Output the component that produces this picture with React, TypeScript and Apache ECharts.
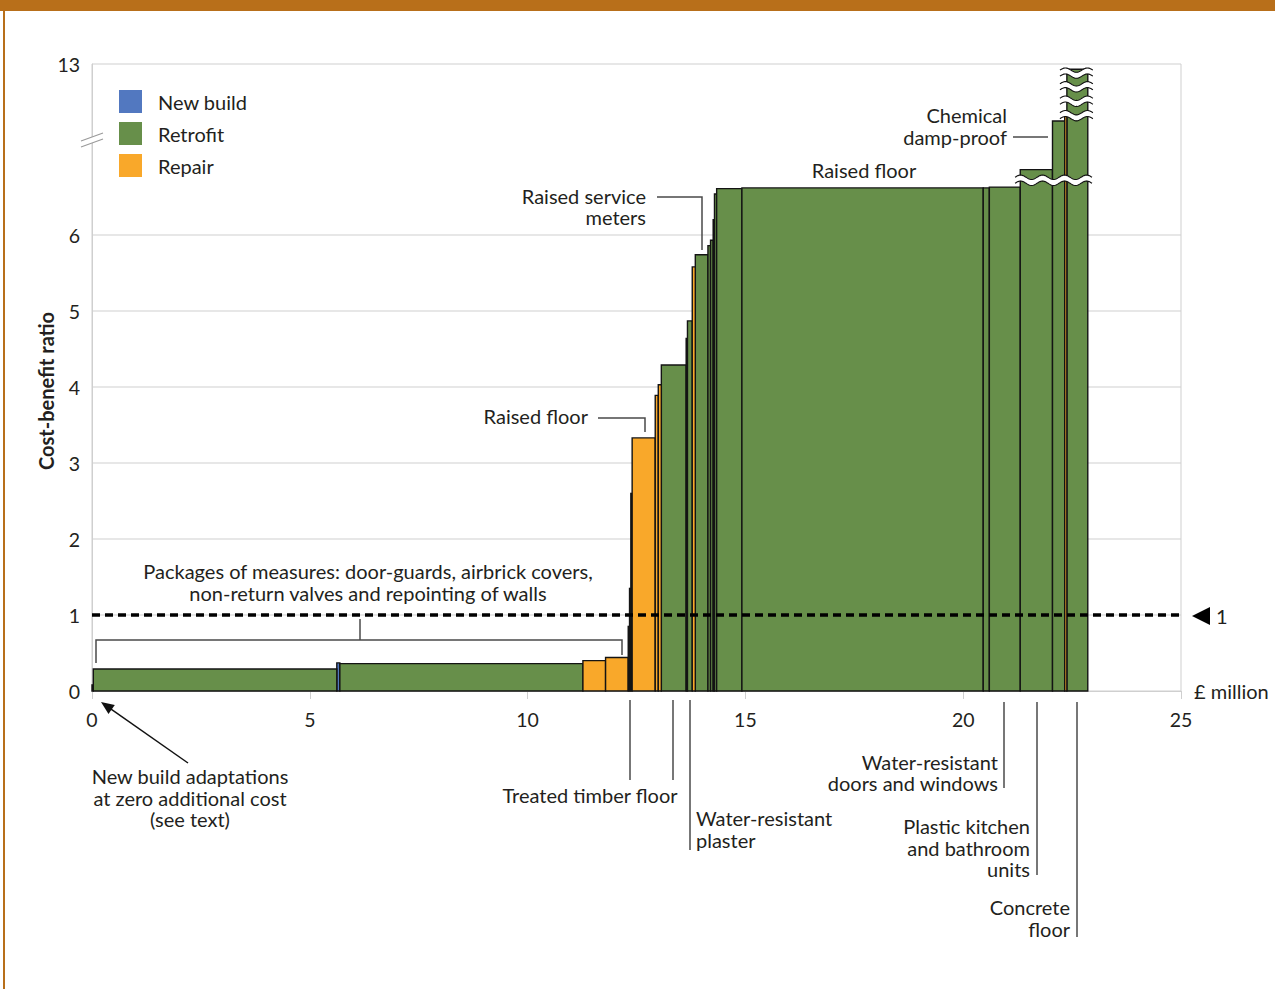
import { useEffect, useRef } from 'react';
import * as echarts from 'echarts';

const typeNames = ['New build', 'Retrofit', 'Repair'];
const typeColors = ['#5278c0', '#678f4a', '#f9a82a'];

// Measures sorted by cost-benefit ratio. Cost in £ million (bar width).
const costs = [0.03, 5.59, 0.07, 5.58, 0.52, 0.52, 0.03, 0.03, 0.03, 0.53, 0.07, 0.07, 0.57, 0.03, 0.11, 0.07, 0.29, 0.06, 0.06, 0.03, 0.05, 0.58, 5.54, 0.14, 0.71, 0.74, 0.28, 0.05, 0.48];
// Plotted cost-benefit ratio (values above ~6.7 sit on the broken part of the axis).
const ratios = [0.08, 0.29, 0.37, 0.36, 0.4, 0.44, 0.85, 1.35, 2.6, 3.33, 3.89, 4.03, 4.29, 4.64, 4.87, 5.58, 5.74, 5.86, 5.93, 6.2, 6.54, 6.61, 6.62, 6.62, 6.63, 6.86, 7.5, 7.6, 8.18];
// 0 = New build, 1 = Retrofit, 2 = Repair
const types = [0, 1, 0, 1, 2, 2, 2, 1, 1, 2, 2, 2, 1, 1, 1, 2, 1, 1, 1, 1, 1, 1, 1, 1, 1, 1, 1, 2, 1];

const xMax = 25;
const xInterval = 5;
const yLabelValues = [0, 1, 2, 3, 4, 5, 6];
const yTopLabel = '13';
const yTopPlot = 8.25;
const gridLineValues = [1, 2, 3, 4, 5, 6];
const thresholdRatio = 1;
// axis breaks drawn across bars: [x start, x end, plotted level]
const breakMarks = [
  [21.19, 22.98, 6.72],
  [22.22, 22.98, 7.57],
  [22.22, 22.98, 7.76],
  [22.22, 22.98, 7.95],
  [22.22, 22.98, 8.13],
];

const FONT = 'Lato';
const TXT = '#231f20';
const LEAD = '#4a4a4a';

function wave(xa: number, xb: number, yc: number, off: number) {
  const pts: number[][] = [];
  const L = 22;
  const A = 2.2;
  for (let x = xa; x <= xb + 0.001; x += 1) {
    pts.push([x, yc + off - A * Math.sin(((x - xa) / L) * 2 * Math.PI)]);
  }
  return pts;
}

function text(x: number, y: number, s: string, align: string, extra: any = {}) {
  return {
    type: 'text',
    x,
    y,
    z: 100,
    style: {
      text: s,
      fill: TXT,
      fontFamily: FONT,
      fontSize: 20,
      textAlign: align,
      textVerticalAlign: 'middle',
      lineHeight: 21.5,
      ...extra,
    },
  };
}

function poly(points: number[][], color = LEAD, w = 1.5) {
  return {
    type: 'polyline',
    z: 100,
    shape: { points },
    style: { stroke: color, lineWidth: w, fill: null },
  };
}

function arrow(x0: number, y0: number, x1: number, y1: number) {
  const dx = x1 - x0;
  const dy = y1 - y0;
  const len = Math.sqrt(dx * dx + dy * dy);
  const ux = dx / len;
  const uy = dy / len;
  const nx = -uy;
  const ny = ux;
  const hl = 13;
  const hw = 5.5;
  const bx = x1 - ux * hl;
  const by = y1 - uy * hl;
  return [
    poly([[x0, y0], [bx + ux * 2, by + uy * 2]], '#111', 1.5),
    {
      type: 'polygon',
      z: 100,
      shape: { points: [[x1, y1], [bx + nx * hw, by + ny * hw], [bx - nx * hw, by - ny * hw]] },
      style: { fill: '#111' },
    },
  ];
}

export default function App() {
  const ref = useRef<HTMLDivElement>(null);

  useEffect(() => {
    if (!ref.current) return;
    const chart = echarts.init(ref.current, null, { renderer: 'svg' });

    let acc = 0;
    const rows = costs.map((c, i) => {
      const r = [acc, acc + c, ratios[i]];
      acc += c;
      return r;
    });

    const barRender = (params: any, api: any) => {
      const x0 = api.value(0);
      const x1 = api.value(1);
      const h = api.value(2);
      const p0 = api.coord([x0, 0]);
      const p1 = api.coord([x1, h]);
      return {
        type: 'rect',
        shape: { x: p0[0], y: p1[1], width: p1[0] - p0[0], height: p0[1] - p1[1] },
        style: { fill: api.visual('color'), stroke: '#141414', lineWidth: 1.4 },
      };
    };

    const barSeries = typeNames.map((name, t) => ({
      name,
      type: 'custom',
      z: 3,
      renderItem: barRender,
      itemStyle: { color: typeColors[t] },
      dimensions: ['x0', 'x1', 'ratio'],
      encode: { x: [0, 1], y: 2 },
      data: rows.filter((_, i) => types[i] === t),
      silent: true,
    }));

    const gridSeries = {
      type: 'custom',
      z: 1,
      silent: true,
      renderItem: (params: any, api: any) => {
        const a = api.coord([0, api.value(0)]);
        const b = api.coord([xMax, api.value(0)]);
        return {
          type: 'line',
          shape: { x1: a[0], y1: a[1], x2: b[0], y2: b[1] },
          style: { stroke: '#cfcfcf', lineWidth: 1 },
        };
      },
      encode: { y: 0 },
      data: gridLineValues.map((v) => [v]),
    };

    const thresholdSeries = {
      type: 'custom',
      z: 5,
      silent: true,
      renderItem: (params: any, api: any) => {
        const a = api.coord([0, api.value(0)]);
        const b = api.coord([xMax, api.value(0)]);
        return {
          type: 'line',
          shape: { x1: a[0], y1: a[1], x2: b[0], y2: b[1] },
          style: { stroke: '#000', lineWidth: 3.4, lineDash: [8, 5] },
        };
      },
      encode: { y: 0 },
      data: [[thresholdRatio]],
    };

    const breakSeries = {
      type: 'custom',
      z: 6,
      silent: true,
      renderItem: (params: any, api: any) => {
        const a = api.coord([api.value(0), api.value(2)]);
        const b = api.coord([api.value(1), api.value(2)]);
        return {
          type: 'group',
          children: [
            { type: 'polyline', shape: { points: wave(a[0], b[0], a[1], 0) }, style: { stroke: '#fff', lineWidth: 5.5, fill: null } },
            { type: 'polyline', shape: { points: wave(a[0], b[0], a[1], -3) }, style: { stroke: '#111', lineWidth: 1.1, fill: null } },
            { type: 'polyline', shape: { points: wave(a[0], b[0], a[1], 3) }, style: { stroke: '#111', lineWidth: 1.1, fill: null } },
          ],
        };
      },
      encode: { x: [0, 1], y: 2 },
      data: breakMarks,
    };

    const graphic: any[] = [
      // frame
      { type: 'rect', z: 100, shape: { x: 0, y: 0, width: 1275, height: 11 }, style: { fill: '#b86f1a' } },
      { type: 'rect', z: 100, shape: { x: 3, y: 0, width: 2, height: 989 }, style: { fill: '#b86f1a' } },
      // y-axis title
      {
        type: 'text',
        x: 46,
        y: 391,
        rotation: Math.PI / 2,
        z: 100,
        style: {
          text: 'Cost-benefit ratio',
          fill: TXT,
          fontFamily: FONT,
          fontSize: 20,
          fontWeight: 'bold',
          textAlign: 'center',
          textVerticalAlign: 'middle',
        },
      },
      // y-axis break
      { type: 'polygon', z: 100, shape: { points: [[81, 141], [103, 133], [103, 139], [81, 147]] }, style: { fill: '#fff' } },
      poly([[81, 141], [103, 133]], '#9a9a9a', 1.2),
      poly([[81, 147], [103, 139]], '#9a9a9a', 1.2),
      // threshold marker
      { type: 'polygon', z: 100, shape: { points: [[1192, 616], [1210, 607], [1210, 625]] }, style: { fill: '#000' } },
      text(1216, 616, '1', 'left'),
      text(1194, 691, '£ million', 'left'),
      // annotations
      text(646, 206.5, 'Raised service\nmeters', 'right'),
      poly([[657, 197], [702, 197], [702, 250]]),
      text(588, 416, 'Raised floor', 'right'),
      poly([[598, 418], [645, 418], [645, 432]]),
      text(864, 170, 'Raised floor', 'center'),
      text(1007, 126, 'Chemical\ndamp-proof', 'right', { lineHeight: 22 }),
      poly([[1013, 137], [1048, 137]]),
      text(368, 582, 'Packages of measures: door-guards, airbrick covers,\nnon-return valves and repointing of walls', 'center', { lineHeight: 22 }),
      poly([[360, 619], [360, 640]]),
      poly([[96, 663], [96, 640], [622, 640], [622, 655]]),
      text(190, 797.5, 'New build adaptations\nat zero additional cost\n(see text)', 'center'),
      ...arrow(188, 763, 101, 702),
      text(590, 795, 'Treated timber floor', 'center'),
      poly([[630, 700], [630, 780]]),
      poly([[673, 700], [673, 780]]),
      text(696, 829, 'Water-resistant\nplaster', 'left'),
      poly([[690, 700], [690, 850]]),
      text(998, 772.5, 'Water-resistant\ndoors and windows', 'right'),
      poly([[1004, 702], [1004, 788]]),
      text(1030, 847.5, 'Plastic kitchen\nand bathroom\nunits', 'right'),
      poly([[1037, 702], [1037, 875]]),
      text(1070, 918, 'Concrete\nfloor', 'right'),
      poly([[1077, 702], [1077, 937]]),
    ];

    // legend
    typeNames.forEach((name, i) => {
      graphic.push({
        type: 'rect',
        z: 100,
        shape: { x: 119, y: 90 + i * 32, width: 23, height: 23 },
        style: { fill: typeColors[i] },
      });
      graphic.push(text(158, 102 + i * 32, name, 'left'));
    });

    chart.setOption({
      animation: false,
      backgroundColor: '#fff',
      textStyle: { fontFamily: FONT },
      grid: {
        left: 92,
        top: 64,
        width: 1089,
        height: 627,
        show: true,
        borderColor: '#cfcfcf',
        borderWidth: 1,
        backgroundColor: 'transparent',
        containLabel: false,
        outerBoundsMode: 'none',
      },
      xAxis: {
        type: 'value',
        min: 0,
        max: xMax,
        interval: xInterval,
        axisLine: { show: true, lineStyle: { color: '#cfcfcf', width: 1 } },
        axisTick: { show: true, length: 8, lineStyle: { color: '#cfcfcf' } },
        splitLine: { show: false },
        axisLabel: { color: TXT, fontSize: 19.5, fontFamily: FONT, margin: 18 },
      },
      yAxis: {
        type: 'value',
        min: 0,
        max: yTopPlot,
        interval: 1,
        axisLine: { show: true, lineStyle: { color: '#cfcfcf', width: 1 } },
        axisTick: { show: false },
        splitLine: { show: false },
        axisLabel: {
          color: TXT,
          fontSize: 19.5,
          fontFamily: FONT,
          margin: 12,
          showMaxLabel: true,
          showMinLabel: true,
          formatter: (v: number) => {
            if (Math.abs(v - yTopPlot) < 0.01) return yTopLabel;
            return yLabelValues.indexOf(v) >= 0 ? String(v) : '';
          },
        },
      },
      series: [gridSeries, ...barSeries, thresholdSeries, breakSeries],
      graphic,
    });

    return () => chart.dispose();
  }, []);

  return <div ref={ref} style={{ position: 'fixed', left: 0, top: 0, width: 1275, height: 989 }} />;
}
